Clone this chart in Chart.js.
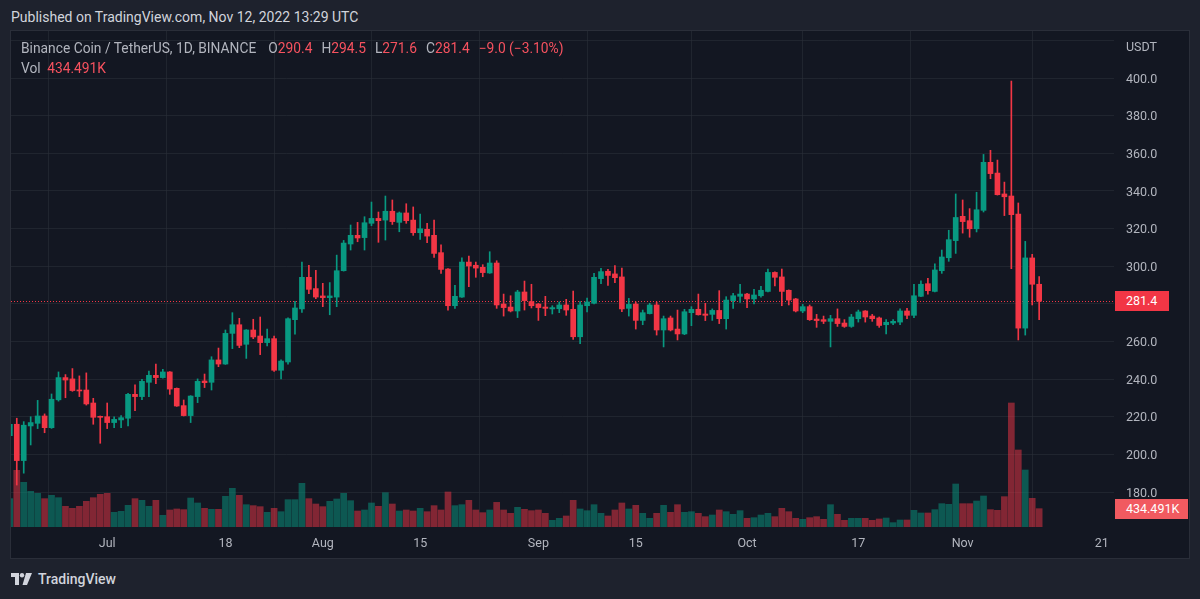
<!DOCTYPE html>
<html><head><meta charset="utf-8">
<script src="https://cdn.jsdelivr.net/npm/chart.js@4.4.0/dist/chart.umd.min.js"></script>
<style>
html,body{margin:0;padding:0;background:#1e222d;width:1200px;height:599px;overflow:hidden;font-family:Roboto,"Noto Sans",sans-serif;}
#panel{position:absolute;left:10px;top:30px;width:1180px;height:529px;border:1px solid #2a2e39;box-sizing:border-box;background:#131722;}
#wrap{position:absolute;left:11px;top:31px;width:1178px;height:527px;}
#pub{position:absolute;left:11px;top:9px;font-size:14px;color:#d1d4dc;white-space:nowrap;}
.leg{position:absolute;left:21px;font-size:13.8px;color:#b2b5be;white-space:nowrap;}
.leg .r{color:#f7525f;}
.leg .g{margin-left:9px;}
#usdt{position:absolute;left:1126px;top:39px;font-size:12.5px;color:#b2b5be;}
.plabel{position:absolute;left:1115px;height:20px;line-height:20px;font-size:12.5px;color:#ffffff;padding-left:11px;box-sizing:border-box;}
#foot{position:absolute;left:11px;top:571px;height:16px;display:flex;align-items:center;color:#d1d4dc;font-size:14px;font-weight:500;}
#foot svg{margin-right:5px;}
</style></head>
<body>
<div id="pub">Published on TradingView.com, Nov 12, 2022 13:29 UTC</div>
<div id="panel"></div>
<div id="wrap"><canvas id="c" width="1178" height="527" style="width:1178px;height:527px"></canvas></div>
<div class="leg" id="leg1" style="top:40px"></div>
<div class="leg" id="leg2" style="top:60px"></div>
<div id="usdt">USDT</div>
<div class="plabel" id="lastLbl" style="width:54px;background:#f23645"></div>
<div class="plabel" id="volLbl" style="width:73px;background:#f15a60"></div>
<div id="foot"><svg width="22" height="12" viewBox="0 0 22 12"><path d="M0 0H8V12H4V4H0Z" fill="#d1d4dc"/><circle cx="11" cy="2.2" r="2.2" fill="#d1d4dc"/><path d="M15 0H21L16 12H11.5Z" fill="#d1d4dc"/></svg>TradingView</div>
<script>
const title = 'Binance Coin / TetherUS, 1D, BINANCE';
const firstDate = '2022-06-17';
const opens = [209.9,216.0,196.7,215.1,216.5,220.4,214.2,229.0,240.8,240.1,234.2,234.2,227.3,220.2,220.0,216.9,218.3,219.2,231.9,230.7,238.3,242.0,240.8,243.8,235.1,
225.9,220.6,230.7,239.0,238.3,250.2,248.0,264.3,268.9,258.5,266.1,262.9,259.4,261.5,244.7,249.1,271.6,277.3,294.1,288.1,284.2,283.3,283.6,297.6,311.8,
316.4,315.2,322.8,325.4,324.5,329.2,323.3,328.3,324.5,317.8,319.6,316.4,307.2,298.5,279.0,283.6,302.2,300.5,299.4,296.4,301.7,279.9,278.3,276.2,286.3,
281.2,279.9,278.3,277.3,277.4,279.4,277.1,262.5,279.0,280.3,293.4,297.3,295.9,294.3,277.6,279.9,271.2,274.8,279.4,266.1,272.5,266.6,264.0,275.3,277.1,
274.6,274.4,276.5,272.1,281.7,284.0,285.2,282.6,284.3,286.6,296.7,294.3,287.2,282.6,276.2,278.5,271.9,271.6,270.7,272.1,269.8,268.0,272.1,276.2,273.5,272.5,
268.9,269.8,270.3,276.2,273.9,284.0,290.7,286.6,297.6,304.5,313.6,326.5,324.2,319.9,329.7,355.2,349.5,338.4,337.3,327.7,267.1,304.4,290.4];
const highs = [217.5,219.2,217.4,220.0,228.7,221.5,232.1,243.8,242.4,245.6,241.7,243.3,229.8,220.4,227.3,220.0,220.6,232.4,236.9,239.9,244.3,248.0,245.2,244.0,235.3,
228.9,231.2,240.1,242.7,251.9,256.5,266.1,275.3,272.3,266.3,271.8,273.0,266.6,262.9,250.2,272.5,281.3,302.2,300.5,297.8,290.9,291.3,305.9,313.7,321.9,
323.3,326.3,334.1,328.8,337.3,335.2,328.8,333.2,331.5,327.7,322.8,324.5,311.4,298.7,289.8,304.4,305.4,302.2,300.8,307.7,302.9,285.2,284.3,287.2,292.1,
290.4,280.2,284.0,279.0,281.0,282.4,286.8,281.2,283.1,296.2,298.9,298.3,300.3,299.0,282.9,281.0,276.7,280.3,281.0,273.5,273.5,276.7,277.1,278.5,285.2,
280.3,277.3,287.0,283.8,285.6,290.4,285.6,287.7,289.3,298.5,297.0,298.5,287.4,282.9,279.7,279.4,274.4,273.5,273.9,277.3,271.6,274.4,276.7,276.4,274.4,273.0,
271.6,271.6,277.3,277.6,290.4,292.2,293.6,301.2,308.6,319.1,338.4,335.2,330.6,339.3,359.4,361.6,356.4,344.7,398.4,333.6,313.2,306.3,294.5];
const lows = [207.0,183.7,190.0,205.0,213.7,211.5,213.8,228.3,230.1,233.5,230.7,226.2,216.0,205.9,213.7,214.2,214.2,215.1,223.2,229.1,230.7,237.6,240.5,231.9,225.5,
220.4,216.9,227.5,235.5,234.2,246.6,247.8,256.2,256.7,251.0,261.5,253.0,257.6,244.1,240.1,248.0,263.9,275.5,285.4,282.7,278.5,274.2,278.5,297.4,308.6,
313.0,308.6,321.5,312.7,313.9,322.2,318.3,322.8,316.4,314.3,312.5,304.7,296.2,276.7,277.6,283.4,289.1,294.1,294.4,296.2,277.6,273.5,275.7,272.7,276.7,
277.8,271.2,273.7,274.6,275.3,273.9,261.1,258.8,275.7,280.0,290.7,289.8,291.3,275.8,273.5,266.6,268.9,274.6,263.4,257.1,265.6,260.8,263.6,268.4,274.0,
271.1,271.2,269.5,266.6,277.6,280.8,278.0,279.9,283.5,286.4,289.5,279.0,279.4,275.7,275.3,271.2,267.5,269.5,257.1,268.0,267.5,267.5,270.3,270.3,270.7,267.5,
264.0,268.9,268.9,272.1,272.7,283.8,285.1,286.3,296.2,302.6,306.8,317.6,315.4,318.2,328.8,346.5,337.8,326.9,298.7,260.8,263.4,279.4,271.6];
const closes = [216.0,196.7,215.5,216.9,220.4,214.2,229.3,240.8,239.5,233.9,233.7,226.8,219.7,219.7,216.9,218.6,219.5,231.9,230.7,238.8,242.0,240.8,243.8,234.7,225.7,
220.6,231.0,238.8,238.1,250.2,248.0,264.3,268.9,257.9,266.1,262.4,259.4,261.5,244.7,249.6,272.1,277.8,294.1,287.7,283.6,283.3,284.2,297.6,312.3,316.4,
315.0,323.1,325.4,324.2,329.2,323.7,328.3,324.2,317.8,319.9,316.0,306.8,298.3,279.0,284.0,302.2,300.1,299.0,296.6,301.7,279.4,278.0,276.2,286.3,281.7,
279.0,278.0,277.6,278.0,279.4,276.7,262.5,279.4,281.0,294.1,297.1,295.1,293.9,277.3,279.7,271.2,275.3,279.4,266.1,272.1,266.1,264.0,275.8,277.1,274.2,
273.9,276.5,272.1,282.0,284.3,285.2,282.6,284.7,287.2,296.7,294.1,286.6,282.0,276.2,278.5,271.6,271.1,270.7,272.1,269.5,268.0,273.0,275.7,273.0,272.1,268.5,
270.2,270.7,276.2,273.9,284.3,290.4,287.0,298.0,304.9,314.1,325.9,323.7,319.9,330.0,355.2,349.2,338.0,336.9,327.4,267.1,304.4,290.4,281.4];
const volumesK = [672,1343,1059,845,798,672,750,695,490,442,490,608,695,774,798,348,371,513,672,632,490,632,276,403,427,
411,687,569,442,419,419,727,917,750,529,506,482,348,442,363,648,648,1035,672,545,482,608,664,798,624,
379,403,569,490,813,545,379,403,379,442,363,506,403,830,506,529,632,403,340,403,584,403,324,466,419,
387,403,324,158,205,261,632,427,387,529,324,261,403,569,427,513,324,205,324,513,348,529,348,363,324,
245,284,403,363,300,387,205,221,284,324,245,442,363,205,182,221,245,182,529,300,158,205,205,205,158,190,
213,103,166,166,395,332,332,411,553,537,1019,553,553,616,735,411,395,719,2939,1825,1351,679,434.491];
const tickDates = ['2022-07-01','2022-07-18','2022-08-01','2022-08-15','2022-09-01','2022-09-15','2022-10-01','2022-10-17','2022-11-01','2022-11-21'];
const tickLabels = ['Jul','18','Aug','15','Sep','15','Oct','17','Nov','21'];
const priceTicks = [180,200,220,240,260,280,300,320,340,360,380,400,420];

const DAY = 86400000, t0 = Date.parse(firstDate + 'T00:00:00Z');
const dayIndex = iso => Math.round((Date.parse(iso + 'T00:00:00Z') - t0) / DAY);
const dates = opens.map((_, i) => new Date(t0 + i * DAY).toISOString().slice(0, 10));
const tickDays = tickDates.map(dayIndex);

const UP = '#089981', DOWN = '#f23645';
const UPV = 'rgba(8,153,129,0.5)', DOWNV = 'rgba(242,54,69,0.5)';
const isUp = i => closes[i] >= opens[i];
const colors = opens.map((_, i) => isUp(i) ? UP : DOWN);
const vcolors = opens.map((_, i) => isUp(i) ? UPV : DOWNV);
const n = closes.length;
const lastClose = closes[n - 1];
const gridColor = 'rgba(42,46,57,0.6)';

Chart.defaults.font.family = 'Roboto, "Noto Sans", sans-serif';

const priceLine = {
  id: 'priceLine',
  beforeDatasetsDraw(chart) {
    const {ctx, chartArea, scales} = chart;
    const y = Math.round(scales.y.getPixelForValue(lastClose)) + 0.5;
    ctx.save();
    ctx.strokeStyle = DOWN; ctx.lineWidth = 1; ctx.setLineDash([1, 2]);
    ctx.beginPath(); ctx.moveTo(chartArea.left, y); ctx.lineTo(chartArea.right, y); ctx.stroke();
    ctx.restore();
  }
};

const chart = new Chart(document.getElementById('c'), {
  type: 'bar',
  data: {
    labels: dates,
    datasets: [
      { label: 'body', order: 1, data: opens.map((o, i) => ({x: i, y: [o, closes[i]]})), backgroundColor: colors, barThickness: 5, minBarLength: 1, grouped: false, yAxisID: 'y' },
      { label: 'wick', order: 2, data: opens.map((o, i) => ({x: i, y: [lows[i], highs[i]]})), backgroundColor: colors, barThickness: 1, grouped: false, yAxisID: 'y' },
      { label: 'volume', order: 3, data: volumesK.map((v, i) => ({x: i, y: v})), backgroundColor: vcolors, barThickness: 6, grouped: false, yAxisID: 'y2' }
    ]
  },
  options: {
    responsive: false, animation: false, events: [],
    layout: {padding: 0},
    plugins: {legend: {display: false}, tooltip: {enabled: false}},
    scales: {
      x: {
        type: 'linear', min: 0.17, max: 158.76, offset: false,
        grid: {color: gridColor, drawTicks: false}, border: {display: false},
        ticks: {color: '#b2b5be', font: {size: 12.5}, padding: 9, maxRotation: 0, autoSkip: false,
          callback: v => { const k = tickDays.indexOf(v); return k >= 0 ? tickLabels[k] : ''; }},
        afterBuildTicks: s => { s.ticks = tickDays.map(v => ({value: v})); },
        afterFit: s => { s.height = 31; s.paddingLeft = 0; s.paddingRight = 0; }
      },
      y: {
        position: 'right', min: 161.4, max: 425,
        grid: {color: gridColor, drawTicks: false}, border: {display: false},
        ticks: {color: '#b2b5be', font: {size: 12.5}, padding: 12, labelOffset: 1.5, callback: v => v >= 420 ? '' : v.toFixed(1)},
        afterBuildTicks: s => { s.ticks = priceTicks.map(v => ({value: v})); },
        afterFit: s => { s.width = 75; s.paddingTop = 0; s.paddingBottom = 0; }
      },
      y2: { display: false, min: 0, max: 11755 }
    }
  },
  plugins: [priceLine]
});

// legend / labels
const prev = closes[n - 2], chg = lastClose - prev, pct = chg / prev * 100;
const fmt = v => v.toFixed(1);
const minus = s => s.replace('-', '\u2212');
document.getElementById('leg1').innerHTML = title +
  '<span class="g" style="margin-left:12px">O<span class="r">' + fmt(opens[n-1]) + '</span></span>' +
  '<span class="g">H<span class="r">' + fmt(highs[n-1]) + '</span></span>' +
  '<span class="g">L<span class="r">' + fmt(lows[n-1]) + '</span></span>' +
  '<span class="g">C<span class="r">' + fmt(lastClose) + '</span></span>' +
  '<span class="g r">' + minus(chg.toFixed(1)) + ' (' + minus(pct.toFixed(2)) + '%)</span>';
document.getElementById('leg2').innerHTML = 'Vol <span class="r" style="margin-left:3px">' + volumesK[n-1].toFixed(3) + 'K</span>';
const top0 = 31;
const ly = chart.scales.y.getPixelForValue(lastClose);
const last = document.getElementById('lastLbl');
last.textContent = fmt(lastClose); last.style.top = (top0 + ly - 10) + 'px';
const vy = chart.scales.y2.getPixelForValue(volumesK[n-1]);
const vl = document.getElementById('volLbl');
vl.textContent = volumesK[n-1].toFixed(3) + 'K'; vl.style.top = (top0 + vy - 10) + 'px';
</script>
</body></html>
